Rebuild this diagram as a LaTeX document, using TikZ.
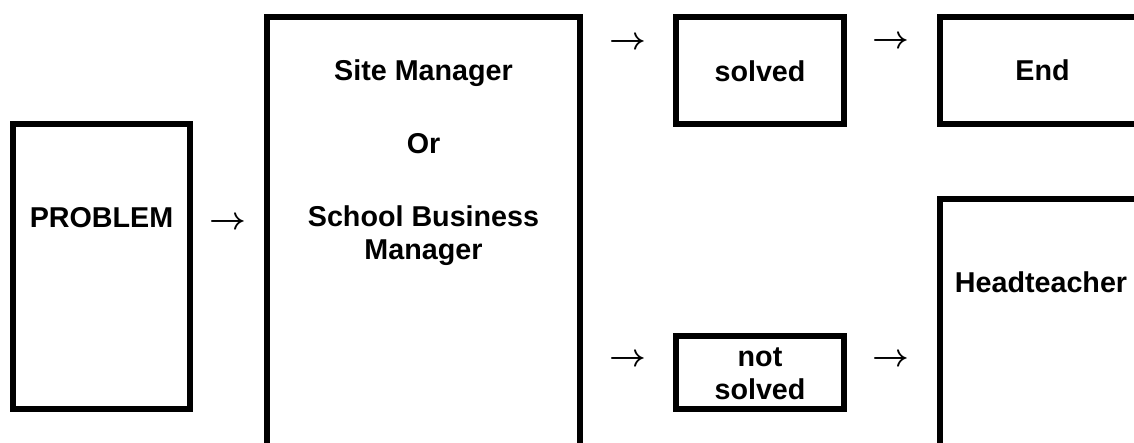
\RequirePackage{fix-cm}
\documentclass[tikz,border=0pt]{standalone}
\usepackage{fontspec}
\setmainfont{Liberation Sans}
\begin{document}
\begin{tikzpicture}[x=1pt,y=-1pt,
  frame/.style={draw=black,line width=6pt,fill=white,inner sep=0pt,rectangle},
  lbl/.style={font=\fontsize{28.7}{33}\selectfont\bfseries,inner sep=0pt,anchor=base,align=center},
  arr/.style={font=\fontsize{32}{32}\selectfont\boldmath,inner sep=0pt}]
\useasboundingbox (0,0) rectangle (1134,443);
\clip (0,0) rectangle (1134,443);
\fill[white] (0,0) rectangle (1134,443);

% boxes (sizes measured at the centre of the stroke)
\node[frame,minimum width=177pt,minimum height=285pt] (problem) at (101.5,266.5) {};
\node[frame,minimum width=313pt,minimum height=463pt] (mgr) at (423.5,248.5) {};
\node[frame,minimum width=168pt,minimum height=107pt] (solved) at (760,70.5) {};
\node[frame,minimum width=168pt,minimum height=73pt] (notsolved) at (760,372.5) {};
\node[frame,minimum width=210pt,minimum height=107pt] (endbox) at (1045,70.5) {};
\node[frame,minimum width=210pt,minimum height=300pt] (head) at (1045,349) {};

% labels (anchored at the baseline of their last line)
\node[lbl] (tproblem) at (101.5,228) {PROBLEM};
\node[lbl] (tsite) at (423.5,81) {Site Manager};
\node[lbl] (tor) at (423.5,154) {Or};
\node[lbl] (tschool) at (423.5,260) {School Business\\Manager};
\node[lbl] (tsolved) at (760,82) {solved};
\node[lbl] (tnot) at (760,399) {not\\solved};
\node[lbl] (tend) at (1042.5,81) {End};
\node[lbl] (thead) at (1041,293) {Headteacher};

% arrows set as glyphs between the boxes
\node[arr] (a1) at (228,223) {$\rightarrow$};
\node[arr] (a2) at (628,43) {$\rightarrow$};
\node[arr] (a3) at (891,42) {$\rightarrow$};
\node[arr] (a4) at (628,360) {$\rightarrow$};
\node[arr] (a5) at (891,360) {$\rightarrow$};
\end{tikzpicture}
\end{document}
